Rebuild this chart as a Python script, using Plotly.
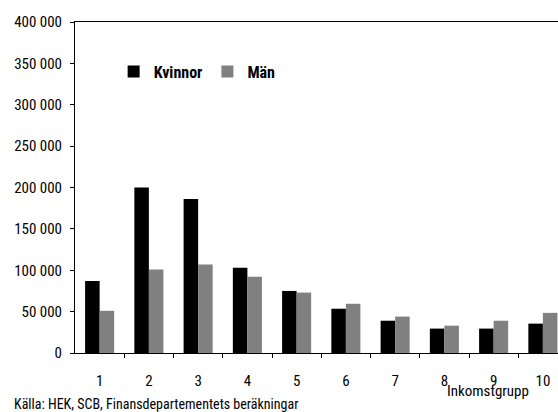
import plotly.graph_objects as go

groups = [1, 2, 3, 4, 5, 6, 7, 8, 9, 10]
group_labels = ["1", "2", "3", "4", "5", "6", "7", "8", "9", "10"]
kvinnor = [87000, 200000, 186000, 103000, 75000, 53500, 39000, 29500, 29500, 35500]
man = [51000, 101000, 107000, 92000, 73000, 59500, 44000, 33000, 39000, 48500]
y_ticks = [0, 50000, 100000, 150000, 200000, 250000, 300000, 350000, 400000]
y_ticktext = ["0", "50 000", "100 000", "150 000", "200 000", "250 000", "300 000", "350 000", "400 000"]
boundaries = [g + 0.5 for g in groups]

FONT = "Roboto Condensed, DejaVu Sans Condensed, sans-serif"
XR = [0.5, 10.307]

fig = go.Figure()
fig.add_trace(go.Bar(x=groups, y=kvinnor, name="Kvinnor", marker=dict(color="#000000", line=dict(width=0))))
fig.add_trace(go.Bar(x=groups, y=man, name="Män", marker=dict(color="#808080", line=dict(width=0))))

fig.update_layout(
    width=558, height=412,
    margin=dict(l=75, r=0, t=22, b=59, autoexpand=False),
    paper_bgcolor="white", plot_bgcolor="white",
    font=dict(family=FONT, size=15, color="black"),
    barmode="group", bargap=0.41, bargroupgap=0,
    showlegend=True,
    legend=dict(orientation="h", x=0.08, xanchor="left", y=0.85, yanchor="middle",
                font=dict(family=FONT, size=16, color="black", weight="bold"),
                bgcolor="rgba(0,0,0,0)", itemclick=False, traceorder="normal"),
    xaxis=dict(range=XR, tickmode="array", tickvals=groups, ticktext=group_labels,
               ticks="", ticklabelstandoff=14, showgrid=False, zeroline=False, automargin=False,
               showline=True, linecolor="black", linewidth=1, mirror=True,
               tickfont=dict(size=15),
               minor=dict(tickmode="array", tickvals=boundaries, ticks="outside",
                          ticklen=4, tickcolor="black", tickwidth=1, showgrid=False)),
    xaxis2=dict(range=XR, overlaying="x", anchor="y", side="bottom", automargin=False,
                tickmode="array", tickvals=boundaries, ticks="inside", ticklen=4,
                tickcolor="black", showticklabels=False, showgrid=False,
                zeroline=False, showline=False),
    yaxis=dict(range=[0, 400000], tickmode="array", tickvals=y_ticks, ticktext=y_ticktext,
               ticks="outside", ticklen=4, tickcolor="black", ticklabelstandoff=5,
               showgrid=False, zeroline=False, showline=True, linecolor="black", automargin=False,
               linewidth=1, tickfont=dict(size=15)),
    annotations=[
        dict(text="Inkomstgrupp", xref="paper", yref="paper", x=0.855, y=-0.115,
             xanchor="center", yanchor="middle", showarrow=False, font=dict(size=15)),
        dict(text="Källa: HEK, SCB, Finansdepartementets beräkningar", xref="paper", yref="paper",
             x=-0.13, y=-0.154, xanchor="left", yanchor="middle", showarrow=False,
             font=dict(size=14)),
    ],
)

fig.write_html("out.html", config={"displayModeBar": False},
               post_script="document.body.style.margin='0';document.body.style.overflow='hidden';")
